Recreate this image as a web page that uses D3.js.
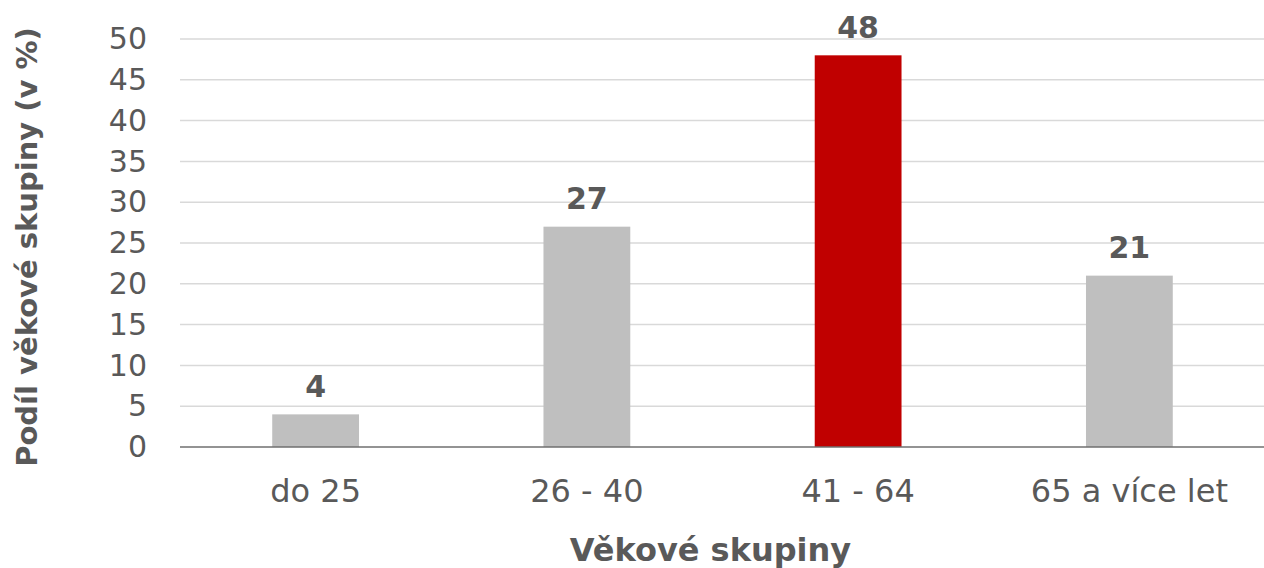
<!DOCTYPE html>
<html>
<head>
<meta charset="utf-8">
<script src="https://cdn.jsdelivr.net/npm/d3@7"></script>
<style>
  body { margin: 0; background: #fff; }
  svg { display: block; font-family: "DejaVu Sans", Verdana, sans-serif; }
</style>
</head>
<body>
<div id="chart"></div>
<script>
// data
const categories = ['do 25', '26 - 40', '41 - 64', '65 a více let'];
const shares = [4, 27, 48, 21];
const highlight = '41 - 64';
const yTicks = [0, 5, 10, 15, 20, 25, 30, 35, 40, 45, 50];
const xTitle = 'Věkové skupiny';
const yTitle = 'Podíl věkové skupiny (v %)';

const width = 1264, height = 568;
const margin = { top: 39, right: 0, bottom: 121, left: 180 };

const svg = d3.select('#chart').append('svg')
  .attr('width', width)
  .attr('height', height);

const x = d3.scaleBand()
  .domain(categories)
  .range([margin.left, width - margin.right + 1])
  .paddingInner(0.68)
  .paddingOuter(0.34);

const y = d3.scaleLinear()
  .domain([0, 50])
  .range([height - margin.bottom, margin.top]);

// gridlines
svg.append('g')
  .selectAll('line')
  .data(yTicks.filter(d => d > 0))
  .join('line')
  .attr('x1', margin.left)
  .attr('x2', width)
  .attr('y1', d => y(d))
  .attr('y2', d => y(d))
  .attr('stroke', '#d9d9d9')
  .attr('stroke-width', 1.5);

// y axis labels
const yAxis = d3.axisLeft(y).tickValues(yTicks).tickSize(0).tickPadding(33);
svg.append('g')
  .attr('transform', `translate(${margin.left},0)`)
  .call(yAxis)
  .call(g => g.select('.domain').remove())
  .selectAll('text')
  .attr('fill', '#595959')
  .attr('font-size', 30)
  .attr('font-family', '"DejaVu Sans", Verdana, sans-serif');

// bars
svg.append('g')
  .selectAll('rect')
  .data(categories)
  .join('rect')
  .attr('x', d => x(d))
  .attr('width', x.bandwidth())
  .attr('y', (d, i) => y(shares[i]))
  .attr('height', (d, i) => y(0) - y(shares[i]))
  .attr('fill', d => d === highlight ? '#c00000' : '#bfbfbf');

// value labels
svg.append('g')
  .selectAll('text')
  .data(categories)
  .join('text')
  .attr('x', d => x(d) + x.bandwidth() / 2)
  .attr('y', (d, i) => y(shares[i]) - 17.5)
  .attr('text-anchor', 'middle')
  .attr('font-weight', 'bold')
  .attr('font-size', 30)
  .attr('fill', '#595959')
  .text((d, i) => shares[i]);

// x axis
const xAxis = d3.axisBottom(x).tickSize(0).tickPadding(32);
svg.append('g')
  .attr('transform', `translate(0,${y(0)})`)
  .call(xAxis)
  .call(g => g.select('.domain').remove())
  .selectAll('text')
  .attr('fill', '#595959')
  .attr('font-size', 32)
  .attr('font-family', '"DejaVu Sans", Verdana, sans-serif');

svg.append('line')
  .attr('x1', margin.left)
  .attr('x2', width)
  .attr('y1', y(0))
  .attr('y2', y(0))
  .attr('stroke', '#6f6f6f')
  .attr('stroke-width', 1.5);

// axis titles
svg.append('text')
  .attr('x', x.range()[0] + (x.range()[1] - x.range()[0]) / 2 - 12)
  .attr('y', 561)
  .attr('text-anchor', 'middle')
  .attr('font-weight', 'bold')
  .attr('font-size', 32)
  .attr('fill', '#595959')
  .text(xTitle);

svg.append('text')
  .attr('transform', `translate(37,247) rotate(-90)`)
  .attr('text-anchor', 'middle')
  .attr('font-weight', 'bold')
  .attr('font-size', 29)
  .attr('fill', '#595959')
  .text(yTitle);
</script>
</body>
</html>
